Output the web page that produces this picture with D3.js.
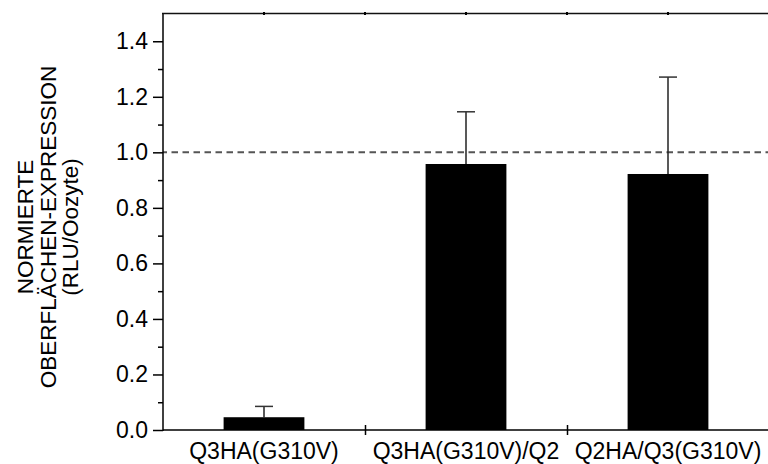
<!DOCTYPE html>
<html>
<head>
<meta charset="utf-8">
<script src="https://cdn.jsdelivr.net/npm/d3@7"></script>
<style>
  html, body { margin: 0; padding: 0; background: #fff; }
  svg { display: block; font-family: "Liberation Sans", Arial, sans-serif; }
</style>
</head>
<body>
<svg id="chart" width="768" height="464"></svg>
<script>
// ---- data ----
const categories = ["Q3HA(G310V)", "Q3HA(G310V)/Q2", "Q2HA/Q3(G310V)"];
const values = [0.046, 0.958, 0.922];
const errorsUp = [0.039, 0.188, 0.349];
const yTicks = [0, 0.2, 0.4, 0.6, 0.8, 1.0, 1.2, 1.4];
const yTickLabels = ["0.0", "0.2", "0.4", "0.6", "0.8", "1.0", "1.2", "1.4"];
const yMinorTicks = [0.1, 0.3, 0.5, 0.7, 0.9, 1.1, 1.3];
const referenceLine = 1.0;
const yTitleLines = ["NORMIERTE", "OBERFLÄCHEN-EXPRESSION", "(RLU/Oozyte)"];

// ---- layout ----
const pL = 163, pR = 769, pT = 13.5, pB = 430;
const svg = d3.select("#chart");

const x = d3.scaleBand().domain(categories).range([pL, pR]).paddingInner(0).paddingOuter(0);
const y = d3.scaleLinear().domain([0, 1.5]).range([pB, pT]);
const barW = x.bandwidth() * 0.4;

// reference dashed line
svg.append("line")
  .attr("x1", pL).attr("x2", pR)
  .attr("y1", y(referenceLine)).attr("y2", y(referenceLine))
  .attr("stroke", "#555").attr("stroke-width", 2)
  .attr("stroke-dasharray", "6.5,4.5").attr("stroke-dashoffset", 2.5);

// error bars
const eb = svg.append("g");
categories.forEach((c, i) => {
  const cx = x(c) + x.bandwidth() / 2;
  eb.append("line").attr("x1", cx).attr("x2", cx)
    .attr("y1", y(values[i])).attr("y2", y(values[i] + errorsUp[i]))
    .attr("stroke", "#222").attr("stroke-width", 1.5);
  eb.append("line").attr("x1", cx - 9).attr("x2", cx + 9)
    .attr("y1", y(values[i] + errorsUp[i])).attr("y2", y(values[i] + errorsUp[i]))
    .attr("stroke", "#333").attr("stroke-width", 1.5);
});

// bars
svg.append("g").selectAll("rect").data(categories).join("rect")
  .attr("x", (d) => x(d) + x.bandwidth() / 2 - barW / 2)
  .attr("width", barW)
  .attr("y", (d, i) => y(values[i]))
  .attr("height", (d, i) => y(0) - y(values[i]))
  .attr("fill", "#000");

// y axis
const yAxis = d3.axisLeft(y).tickValues(yTicks)
  .tickFormat((d, i) => yTickLabels[i]).tickSize(10).tickPadding(5);
const gy = svg.append("g").attr("transform", `translate(${pL},0)`).call(yAxis);
gy.select(".domain").remove();
gy.selectAll(".tick line").attr("stroke", "#000").attr("stroke-width", 1.5);
gy.selectAll(".tick text").attr("font-size", 23).attr("fill", "#000")
  .attr("font-family", "Liberation Sans, Arial, sans-serif");
const yMinor = d3.axisLeft(y).tickValues(yMinorTicks).tickFormat("").tickSize(5);
const gym = svg.append("g").attr("transform", `translate(${pL},0)`).call(yMinor);
gym.select(".domain").remove();
gym.selectAll(".tick line").attr("stroke", "#000").attr("stroke-width", 1.5);

// x axis (ticks at category boundaries)
const boundaries = categories.map(c => x(c)).concat([pR]);
const xb = d3.scaleLinear().domain([pL, pR]).range([pL, pR]);
const xAxis = d3.axisBottom(xb).tickValues(boundaries.slice(1, 3)).tickFormat("").tickSize(5);
const gx = svg.append("g").attr("transform", `translate(0,${pB})`).call(xAxis);
gx.select(".domain").remove();
gx.selectAll(".tick line").attr("stroke", "#000").attr("stroke-width", 1.5).attr("y1", -5);

// category labels
svg.append("g").selectAll("text").data(categories).join("text")
  .attr("x", d => x(d) + x.bandwidth() / 2)
  .attr("y", 459)
  .attr("text-anchor", "middle")
  .attr("font-size", 23)
  .attr("fill", "#000")
  .text(d => d);

// frame lines
svg.append("line").attr("x1", pL).attr("x2", pL).attr("y1", pT).attr("y2", pB + 1)
  .attr("stroke", "#000").attr("stroke-width", 1.5);
svg.append("line").attr("x1", pL).attr("x2", pR).attr("y1", pB).attr("y2", pB)
  .attr("stroke", "#000").attr("stroke-width", 1.5);
svg.append("line").attr("x1", pL - 1).attr("x2", pR).attr("y1", pT).attr("y2", pT)
  .attr("stroke", "#111").attr("stroke-width", 1.5);
// small marks on top line at centers and boundaries
const topMarks = [];
categories.forEach(c => { topMarks.push(x(c) + x.bandwidth() / 2); });
boundaries.slice(1, 3).forEach(b => topMarks.push(b));
svg.append("g").selectAll("line").data(topMarks).join("line")
  .attr("x1", d => d).attr("x2", d => d).attr("y1", pT - 1.5).attr("y2", pT + 1.5)
  .attr("stroke", "#000").attr("stroke-width", 2);

// y title
const titleG = svg.append("g");
const baselines = [33, 55.5, 78];
yTitleLines.forEach((t, i) => {
  titleG.append("text")
    .attr("transform", `translate(${baselines[i]},227) rotate(-90)`)
    .attr("text-anchor", "middle")
    .attr("font-size", 22.5)
    .attr("fill", "#000")
    .text(t);
});
</script>
</body>
</html>
